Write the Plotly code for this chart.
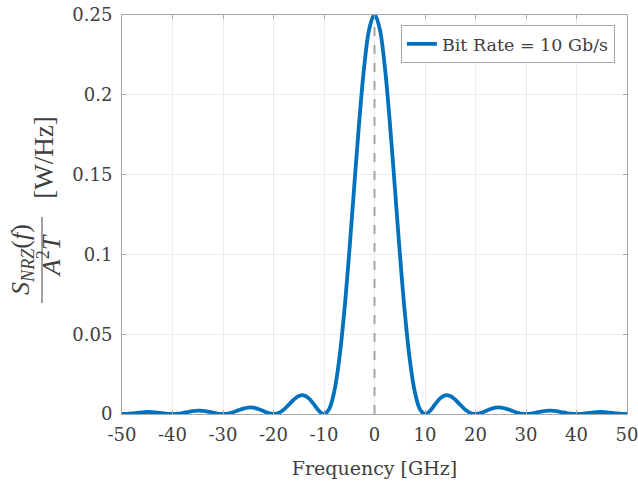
import plotly.graph_objects as go

# Frequency grid [GHz] and PSD values
freq_ghz = list(range(-50, 51))
psd_pos = [0.25, 0.24188, 0.21879, 0.18421, 0.14320, 0.10132, 0.06364, 0.03383, 0.01367, 0.00299,
           0.0, 0.00200, 0.00608, 0.00981, 0.01169, 0.01126, 0.00895, 0.00574, 0.00270, 0.00067,
           0.0, 0.00055, 0.00181, 0.00313, 0.00398, 0.00405, 0.00339, 0.00227, 0.00112, 0.00029,
           0.0, 0.00025, 0.00085, 0.00152, 0.00198, 0.00207, 0.00177, 0.00121, 0.00061, 0.00016,
           0.0, 0.00014, 0.00050, 0.00090, 0.00118, 0.00125, 0.00108, 0.00075, 0.00038, 0.00010,
           0.0]
psd_neg = [0.0, 0.00010, 0.00038, 0.00075, 0.00108, 0.00125, 0.00118, 0.00090, 0.00050, 0.00014,
           0.0, 0.00016, 0.00061, 0.00121, 0.00177, 0.00207, 0.00198, 0.00152, 0.00085, 0.00025,
           0.0, 0.00029, 0.00112, 0.00227, 0.00339, 0.00405, 0.00398, 0.00313, 0.00181, 0.00055,
           0.0, 0.00067, 0.00270, 0.00574, 0.00895, 0.01126, 0.01169, 0.00981, 0.00608, 0.00200,
           0.0, 0.00299, 0.01367, 0.03383, 0.06364, 0.10132, 0.14320, 0.18421, 0.21879, 0.24188]
psd = psd_neg + psd_pos

marker_x = [0, 0]
marker_y = [0, 0.25]

x_ticks = [-50, -40, -30, -20, -10, 0, 10, 20, 30, 40, 50]
x_tick_text = ["-50", "-40", "-30", "-20", "-10", "0", "10", "20", "30", "40", "50"]
y_ticks = [0, 0.05, 0.1, 0.15, 0.2, 0.25]
y_tick_text = ["0", "0.05", "0.1", "0.15", "0.2", "0.25"]

FONT = "DejaVu Serif"
TXT = "#404040"
AX = "#a8a8a8"
GRID = "#ebebeb"

fig = go.Figure()
fig.add_trace(go.Scatter(x=marker_x, y=marker_y, mode="lines",
                         line=dict(color="#a6a6a6", width=2, dash="dash"),
                         showlegend=False, hoverinfo="skip"))
fig.add_trace(go.Scatter(x=freq_ghz, y=psd, mode="lines", name="Bit Rate = 10 Gb/s",
                         line=dict(color="#0072BD", width=3.8, shape="spline")))

fig.update_layout(
    width=638, height=483,
    margin=dict(l=122, r=11, t=15, b=69, autoexpand=False),
    paper_bgcolor="white", plot_bgcolor="white",
    font=dict(family=FONT, size=18, color=TXT),
    legend=dict(x=0.976, y=0.975, xanchor="right", yanchor="top",
                bordercolor=AX, borderwidth=1, bgcolor="white",
                font=dict(family=FONT, size=17.5, color=TXT)),
    xaxis=dict(range=[-50, 50], tickvals=x_ticks, ticktext=x_tick_text, showgrid=True, gridcolor=GRID,
               zeroline=False, showline=True, linecolor=AX, linewidth=1, mirror="ticks",
               ticks="inside", ticklen=4, tickcolor=AX, automargin=False, ticklabelstandoff=4,
               ticklabeloverflow="allow",
               tickfont=dict(family=FONT, size=18, color=TXT),
               title=dict(text="Frequency [GHz]", font=dict(family=FONT, size=19, color=TXT), standoff=18)),
    yaxis=dict(range=[0, 0.25], tickvals=y_ticks, ticktext=y_tick_text, showgrid=True, gridcolor=GRID,
               zeroline=False, showline=True, linecolor=AX, linewidth=1, mirror="ticks",
               ticks="inside", ticklen=4, tickcolor=AX, automargin=False, ticklabelstandoff=5,
               ticklabeloverflow="allow",
               tickfont=dict(family=FONT, size=18, color=TXT)),
)

MATH = "Liberation Serif"
fig.add_annotation(xref="paper", yref="paper", x=-0.198, y=0.386, xanchor="center", yanchor="middle",
                   text="<i>S</i><sub><i>NRZ</i></sub>(<i>f</i>)", textangle=-90, showarrow=False,
                   font=dict(family=MATH, size=26, color=TXT))
fig.add_annotation(xref="paper", yref="paper", x=-0.1446, y=0.398, xanchor="center", yanchor="middle",
                   text="<i>A</i><sup>2</sup><i>T</i>", textangle=-90, showarrow=False,
                   font=dict(family=MATH, size=26, color=TXT))
fig.add_annotation(xref="paper", yref="paper", x=-0.1545, y=0.642, xanchor="center", yanchor="middle",
                   text="[W/Hz]", textangle=-90, showarrow=False,
                   font=dict(family=MATH, size=27, color=TXT))
fig.add_shape(type="line", xref="paper", yref="paper", x0=-0.1584, x1=-0.1584, y0=0.278, y1=0.494,
              line=dict(color=TXT, width=1))

fig.write_html("out.html", config={"displayModeBar": False},
               post_script="document.body.style.margin='0';document.body.style.overflow='hidden';")
